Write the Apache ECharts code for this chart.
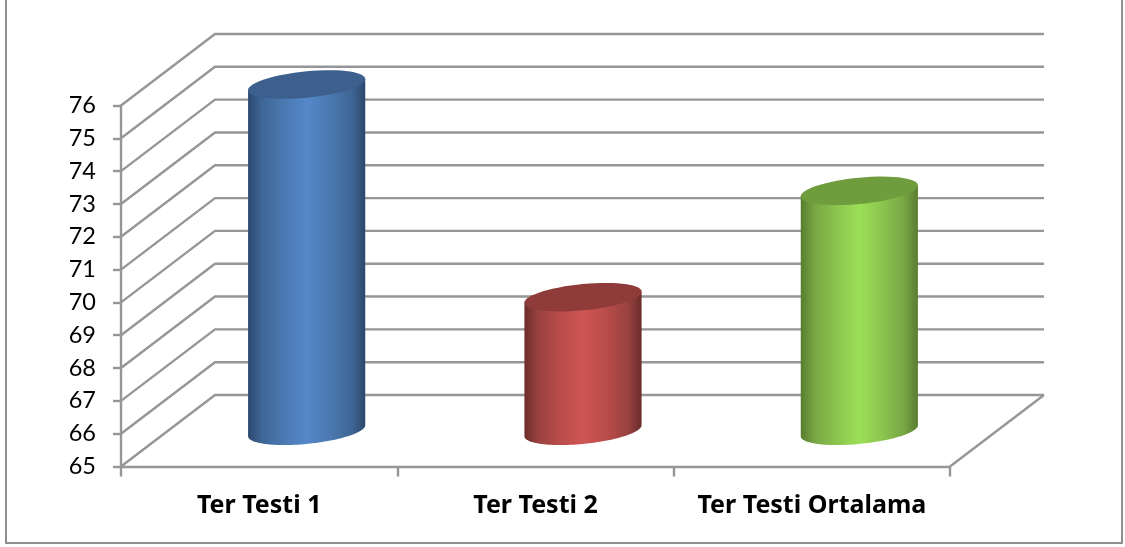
<!DOCTYPE html>
<html>
<head>
<meta charset="utf-8">
<script src="https://cdn.jsdelivr.net/npm/echarts@6/dist/echarts.min.js"></script>
<style>
html,body{margin:0;padding:0;background:#fff;}
#chart{width:1125px;height:547px;}
</style>
</head>
<body>
<div id="chart"></div>
<script>
// Sweat test results
const categories = ['Ter Testi 1', 'Ter Testi 2', 'Ter Testi Ortalama'];
const values = [75.55, 69.07, 72.31];
const tickValues = [65, 66, 67, 68, 69, 70, 71, 72, 73, 74, 75, 76];

// Colours for each cylinder: edge, shoulder, mid, centre, lid
const palettes = [
  ['#2b486e', '#3f6796', '#4a78b0', '#5588ca', '#3c5f8e'],
  ['#6b2c2b', '#9a4240', '#b84c4a', '#cf5553', '#8f3b3a'],
  ['#587d30', '#78a644', '#8bc44e', '#9cdf57', '#6f9c3d']
];

// Oblique projection of the chart floor
const DEPTH_X = 94;
const DEPTH_Y = -71.5;
const LINE_COLOR = '#969696';
const LINE_WIDTH = 2.4;

const chart = echarts.init(document.getElementById('chart'));

// Back-wall gridline with its slanted side-wall segment
function renderWallLine(params, api) {
  const cs = params.coordSys;
  const y = api.coord([0, api.value(1)])[1];
  const x0 = cs.x, x1 = cs.x + cs.width;
  const children = [{
    type: 'polyline',
    shape: { points: [[x0, y], [x0 + DEPTH_X, y + DEPTH_Y], [x1 + DEPTH_X, y + DEPTH_Y]] },
    style: { stroke: LINE_COLOR, lineWidth: LINE_WIDTH, fill: null }
  }];
  if (api.value(1) === tickValues[0]) {
    children.push({
      type: 'line',
      shape: { x1: x1, y1: y, x2: x1 + DEPTH_X, y2: y + DEPTH_Y },
      style: { stroke: LINE_COLOR, lineWidth: LINE_WIDTH }
    });
  }
  return { type: 'group', children };
}

// Tilted ellipse outline, sheared so its x extremes sit at t=0 and t=PI
function ellipsePoints(cx, cy, rx, from, to) {
  const pts = [];
  const shear = rx * 0.094, ry = rx * 0.225;
  for (let i = 0; i <= 60; i++) {
    const t = from + (to - from) * i / 60;
    pts.push([cx + rx * Math.cos(t), cy - shear * Math.cos(t) + ry * Math.sin(t)]);
  }
  return pts;
}

function renderCylinder(params, api) {
  const i = api.value(0);
  const top = api.coord([i, api.value(1)]);
  const base = api.coord([i, tickValues[0]]);
  const rx = api.size([1, 0])[0] * 0.212;
  const cx = top[0] + DEPTH_X / 2 + 0.5;
  const topY = top[1] + DEPTH_Y / 2;
  const baseY = base[1] + DEPTH_Y / 2;
  const pal = palettes[i];
  const body = [[cx - rx, topY + rx * 0.094], [cx + rx, topY - rx * 0.094]]
    .concat(ellipsePoints(cx, baseY, rx, 0, Math.PI));
  return {
    type: 'group',
    children: [{
      type: 'polygon',
      shape: { points: body },
      style: {
        fill: new echarts.graphic.LinearGradient(0, 0, 1, 0, [
          { offset: 0, color: pal[0] },
          { offset: 0.12, color: pal[1] },
          { offset: 0.3, color: pal[2] },
          { offset: 0.5, color: pal[3] },
          { offset: 0.7, color: pal[2] },
          { offset: 0.88, color: pal[1] },
          { offset: 1, color: pal[0] }
        ])
      }
    }, {
      type: 'polygon',
      shape: { points: ellipsePoints(cx, topY, rx, 0, Math.PI * 2) },
      style: { fill: pal[4] }
    }]
  };
}

chart.setOption({
  animation: false,
  tooltip: { show: false },
  grid: { left: 121, top: 105.5, width: 829, height: 361 },
  xAxis: {
    type: 'category',
    data: categories,
    axisLine: { lineStyle: { color: LINE_COLOR, width: LINE_WIDTH } },
    axisTick: { show: true, interval: 0, length: 10, alignWithLabel: false, lineStyle: { color: LINE_COLOR, width: LINE_WIDTH } },
    axisLabel: { interval: 0, hideOverlap: false, margin: 27, color: '#000', fontFamily: 'Noto Sans', fontWeight: 'bold', fontSize: 25 }
  },
  yAxis: {
    type: 'value',
    min: 65,
    max: 76,
    interval: 1,
    axisLine: { show: true, lineStyle: { color: LINE_COLOR, width: LINE_WIDTH } },
    axisTick: { show: true, length: 8, lineStyle: { color: LINE_COLOR, width: LINE_WIDTH } },
    splitLine: { show: false },
    axisLabel: { margin: 25, padding: [3, 0, 0, 0], color: '#000', fontFamily: 'Lato', fontSize: 23.5 }
  },
  series: [{
    type: 'custom',
    name: 'walls',
    coordinateSystem: 'cartesian2d',
    renderItem: renderWallLine,
    encode: { x: 0, y: 1 },
    data: tickValues.map(v => [0, v]),
    clip: false,
    silent: true,
    z: 1
  }, {
    type: 'custom',
    name: 'Ter Testi',
    coordinateSystem: 'cartesian2d',
    renderItem: renderCylinder,
    encode: { x: 0, y: 1 },
    data: values.map((v, i) => [i, v]),
    clip: false,
    z: 3
  }],
  graphic: [{
    type: 'rect',
    shape: { x: 6, y: -6, width: 1116, height: 549 },
    style: { fill: 'none', stroke: '#8f8f8f', lineWidth: 2 },
    silent: true
  }]
});
</script>
</body>
</html>
